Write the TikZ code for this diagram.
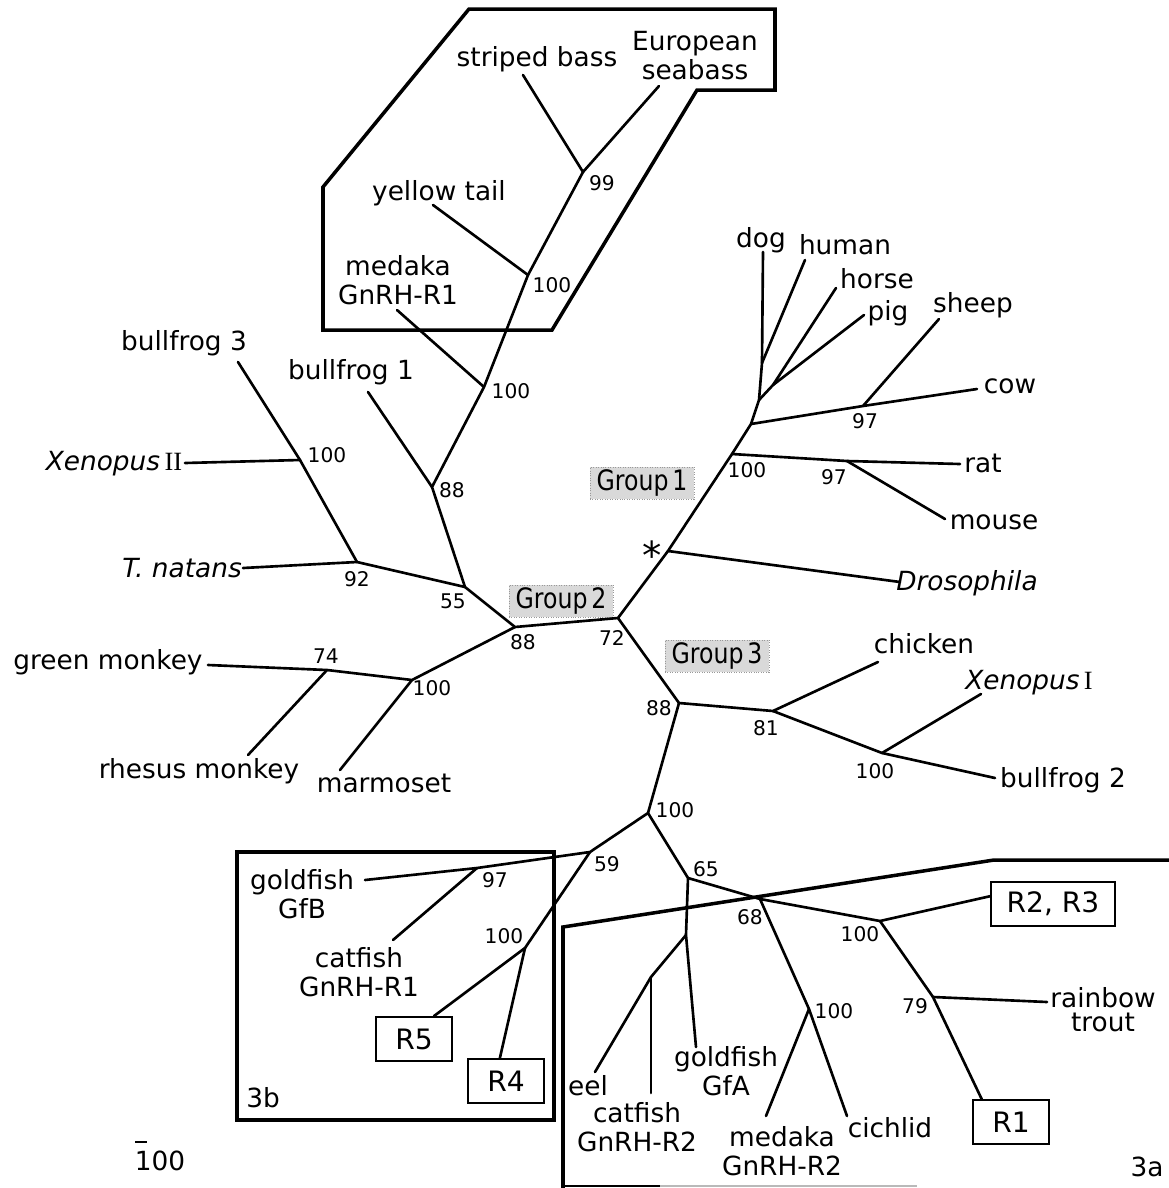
\documentclass[tikz,border=0pt]{standalone}
\usepackage{fontspec}
\usepackage{graphicx}
\setmainfont{DejaVu Sans}
\newfontfamily\romnum{Liberation Serif}
\tikzset{
  branch/.style={line width=1.5pt, line cap=round, line join=round},
  frame/.style={line width=2pt},
  taxon/.style={inner sep=0pt, align=center, font=\fontsize{15}{16.5}\selectfont},
  boot/.style={inner sep=0pt, font=\fontsize{11.5}{12}\selectfont},
  grouptag/.style={draw=gray!80, densely dotted, fill=gray!30, inner sep=0pt, minimum width=2.08cm, minimum height=0.64cm, font=\fontsize{16}{17}\selectfont},
  rbox/.style={draw, line width=1.3pt, inner sep=0pt, minimum width=1.52cm, minimum height=0.87cm, font=\fontsize{16}{18}\selectfont},
}
\newcommand{\grouptext}[1]{\scalebox{0.84}[1]{Group\,#1}}
\begin{document}
\begin{tikzpicture}[x=0.02cm,y=-0.02cm]
    \useasboundingbox (0,0) rectangle (1169,1188);

    \coordinate (n99) at (583,172);
    \coordinate (n100yt) at (528,275);
    \coordinate (n100md) at (484,387);
    \coordinate (n88bf) at (432,487);
    \coordinate (n100xe) at (300,460);
    \coordinate (n92) at (357,562);
    \coordinate (n55) at (465,587);
    \coordinate (g2) at (515,627);
    \coordinate (n74) at (327,670);
    \coordinate (n100mk) at (412,680);
    \coordinate (n72) at (618,618);
    \coordinate (ast) at (668,551);
    \coordinate (n100g1) at (732,454);
    \coordinate (ncow) at (751,424);
    \coordinate (ndog) at (759,400);
    \coordinate (nhum) at (762,363);
    \coordinate (nhp) at (773,385);
    \coordinate (n97c) at (863,406);
    \coordinate (n97r) at (847,461);
    \coordinate (n88g3) at (679,703);
    \coordinate (n81) at (773,711);
    \coordinate (n100xi) at (882,753);
    \coordinate (n100lo) at (648,813);
    \coordinate (n59) at (590,852);
    \coordinate (n97gf) at (477,868);
    \coordinate (n100r45) at (525,948);
    \coordinate (n65) at (688,878);
    \coordinate (nfa) at (686,935);
    \coordinate (neel) at (651,977);
    \coordinate (n68) at (760,899);
    \coordinate (n100r) at (880,921);
    \coordinate (n79) at (933,997);
    \coordinate (n100mr) at (809,1009);

    \coordinate (tSB) at (523,75);
    \coordinate (tES) at (659,86);
    \coordinate (tYT) at (433,205);
    \coordinate (tMR1) at (397,310);
    \coordinate (tBF3) at (238,362);
    \coordinate (tBF1) at (368,392);
    \coordinate (tXII) at (185,463);
    \coordinate (tTN) at (243,568);
    \coordinate (tGM) at (208,665);
    \coordinate (tRM) at (248,755);
    \coordinate (tMA) at (340,770);
    \coordinate (tDog) at (763,252);
    \coordinate (tHum) at (805,260);
    \coordinate (tHor) at (836,288);
    \coordinate (tPig) at (864,315);
    \coordinate (tShe) at (939,319);
    \coordinate (tCow) at (977,389);
    \coordinate (tRat) at (960,464);
    \coordinate (tMou) at (945,519);
    \coordinate (tDro) at (900,582);
    \coordinate (tChi) at (878,662);
    \coordinate (tXI) at (981,694);
    \coordinate (tBF2) at (995,778);
    \coordinate (tGfB) at (365,880);
    \coordinate (tCR1) at (393,940);
    \coordinate (tGfA) at (696,1047);
    \coordinate (tEel) at (595,1072);
    \coordinate (tCR2) at (651,1093);
    \coordinate (tMR2) at (766,1116);
    \coordinate (tCic) at (847,1116);
    \coordinate (tRT) at (1047,1002);

    \draw[frame] (469,9) -- (775,9) -- (775,90) -- (697,90) -- (552,330) -- (323,330) -- (323,187) -- cycle;
    \draw[frame] (237,852) rectangle (554,1120);
    \draw[frame] (563,1190) -- (563,927) -- (994,860) -- (1172,860);
    \draw[line width=1.2pt] (563,1186) -- (660,1186);
    \draw[line width=1pt, gray!55] (660,1186) -- (917,1186);

    \node[grouptag] (grp1) at (642,483) {\grouptext{1}};
    \node[grouptag] (grp2) at (561,601) {\grouptext{2}};
    \node[grouptag] (grp3) at (717,656) {\grouptext{3}};

    \node[rbox] (R5) at (414,1039) {R5};
    \node[rbox] (R4) at (506,1081) {R4};
    \node[rbox] (R1) at (1011,1122) {R1};
    \node[rbox, minimum width=2.48cm] (R2R3) at (1053,904) {R2, R3};

    \draw[branch] (tSB) -- (n99) -- (tES);
    \draw[branch] (n99) -- (n100yt) -- (n100md) -- (n88bf) -- (n55) -- (g2) -- (n72) -- (ast) -- (n100g1) -- (ncow) -- (ndog) -- (nhum) -- (tDog);
    \draw[branch] (tYT) -- (n100yt);
    \draw[branch] (tMR1) -- (n100md);
    \draw[branch] (tBF1) -- (n88bf);
    \draw[branch] (tBF3) -- (n100xe) -- (n92) -- (n55);
    \draw[branch] (tXII) -- (n100xe);
    \draw[branch] (tTN) -- (n92);
    \draw[branch] (g2) -- (n100mk) -- (n74) -- (tGM);
    \draw[branch] (n74) -- (tRM);
    \draw[branch] (n100mk) -- (tMA);
    \draw[branch] (nhum) -- (tHum);
    \draw[branch] (ndog) -- (nhp) -- (tHor);
    \draw[branch] (nhp) -- (tPig);
    \draw[branch] (ncow) -- (n97c) -- (tCow);
    \draw[branch] (n97c) -- (tShe);
    \draw[branch] (n100g1) -- (n97r) -- (tRat);
    \draw[branch] (n97r) -- (tMou);
    \draw[branch] (ast) -- (tDro);
    \draw[branch] (n72) -- (n88g3) -- (n81) -- (tChi);
    \draw[branch] (n81) -- (n100xi) -- (tXI);
    \draw[branch] (n100xi) -- (tBF2);
    \draw[branch] (n88g3) -- (n100lo) -- (n59) -- (n97gf) -- (tGfB);
    \draw[branch] (n97gf) -- (tCR1);
    \draw[branch] (n59) -- (n100r45) -- (R5.49);
    \draw[branch] (n100r45) -- (R4.105);
    \draw[branch] (n100lo) -- (n65) -- (nfa) -- (tGfA);
    \draw[branch] (nfa) -- (neel) -- (tEel);
    \draw[branch] (neel) -- (tCR2);
    \draw[branch] (n65) -- (n68) -- (n100r) -- (R2R3.173);
    \draw[branch] (n100r) -- (n79) -- (R1.142);
    \draw[branch] (n79) -- (tRT);
    \draw[branch] (n68) -- (n100mr) -- (tCic);
    \draw[branch] (n100mr) -- (tMR2);

    \node[taxon] (lSB) at (537,59) {striped bass};
    \node[taxon] (lES) at (695,56) {European\\seabass};
    \node[taxon] (lYT) at (439,193) {yellow tail};
    \node[taxon] (lMR1) at (398,280) {medaka\\GnRH-R1};
    \node[taxon] (lDog) at (761,240) {dog};
    \node[taxon] (lHum) at (845,245) {human};
    \node[taxon] (lHor) at (877,279) {horse};
    \node[taxon] (lPig) at (888,313) {pig};
    \node[taxon] (lShe) at (973,305) {sheep};
    \node[taxon] (lCow) at (1010,386) {cow};
    \node[taxon] (lRat) at (983,463) {rat};
    \node[taxon] (lMou) at (994,522) {mouse};
    \node[taxon] (lDro) at (967,583) {\textit{Drosophila}};
    \node[taxon] (lBF3) at (184,343) {bullfrog 3};
    \node[taxon] (lBF1) at (351,372) {bullfrog 1};
    \node[taxon] (lXII) at (114,464) {\textit{Xenopus}\,{\romnum II}};
    \node[taxon] (lTN) at (182,568) {\textit{T. natans}};
    \node[taxon] (lGM) at (108,662) {green monkey};
    \node[taxon] (lRM) at (199,771) {rhesus monkey};
    \node[taxon] (lMA) at (384,783) {marmoset};
    \node[taxon] (lChi) at (924,644) {chicken};
    \node[taxon] (lXI) at (1029,683) {\textit{Xenopus}\,{\romnum I}};
    \node[taxon] (lBF2) at (1063,780) {bullfrog 2};
    \node[taxon] (lGfB) at (302,894) {goldfish\\GfB};
    \node[taxon] (lCR1) at (359,972) {catfish\\GnRH-R1};
    \node[taxon] (lEel) at (588,1086) {eel};
    \node[taxon] (lCR2) at (637,1127) {catfish\\GnRH-R2};
    \node[taxon] (lGfA) at (726,1071) {goldfish\\GfA};
    \node[taxon] (lMR2) at (782,1151) {medaka\\GnRH-R2};
    \node[taxon] (lCic) at (890,1128) {cichlid};
    \node[taxon, font=\fontsize{15}{13.5}\selectfont] (lRT) at (1103,1010) {rainbow\\trout};
    \node[taxon] (l3b) at (263,1098) {3b};
    \node[taxon] (l3a) at (1147,1167) {3a};
    \node[taxon] (lscale) at (160,1161) {100};
    \draw[line width=1pt] (135,1142) -- (147,1142);

    \node[inner sep=0pt, font=\fontsize{22}{22}\selectfont] (star) at (652,555) {*};

    \node[boot] (b99) at (602,183) {99};
    \node[boot] (b100yt) at (552,285) {100};
    \node[boot] (b100md) at (511,391) {100};
    \node[boot] (b100xe) at (327,455) {100};
    \node[boot] (b88bf) at (452,490) {88};
    \node[boot] (b92) at (357,579) {92};
    \node[boot] (b55) at (453,601) {55};
    \node[boot] (b74) at (326,656) {74};
    \node[boot] (b100mk) at (432,688) {100};
    \node[boot] (bg2) at (523,642) {88};
    \node[boot] (b72) at (612,638) {72};
    \node[boot] (b100g1) at (747,470) {100};
    \node[boot] (b97c) at (865,421) {97};
    \node[boot] (b97r) at (834,477) {97};
    \node[boot] (b88g3) at (659,708) {88};
    \node[boot] (b81) at (766,728) {81};
    \node[boot] (b100xi) at (875,771) {100};
    \node[boot] (b100lo) at (675,810) {100};
    \node[boot] (b59) at (607,864) {59};
    \node[boot] (b97gf) at (495,880) {97};
    \node[boot] (b100r45) at (504,936) {100};
    \node[boot] (b65) at (706,869) {65};
    \node[boot] (b68) at (750,917) {68};
    \node[boot] (b100r) at (860,934) {100};
    \node[boot] (b79) at (915,1006) {79};
    \node[boot] (b100mr) at (834,1011) {100};
\end{tikzpicture}
\end{document}
